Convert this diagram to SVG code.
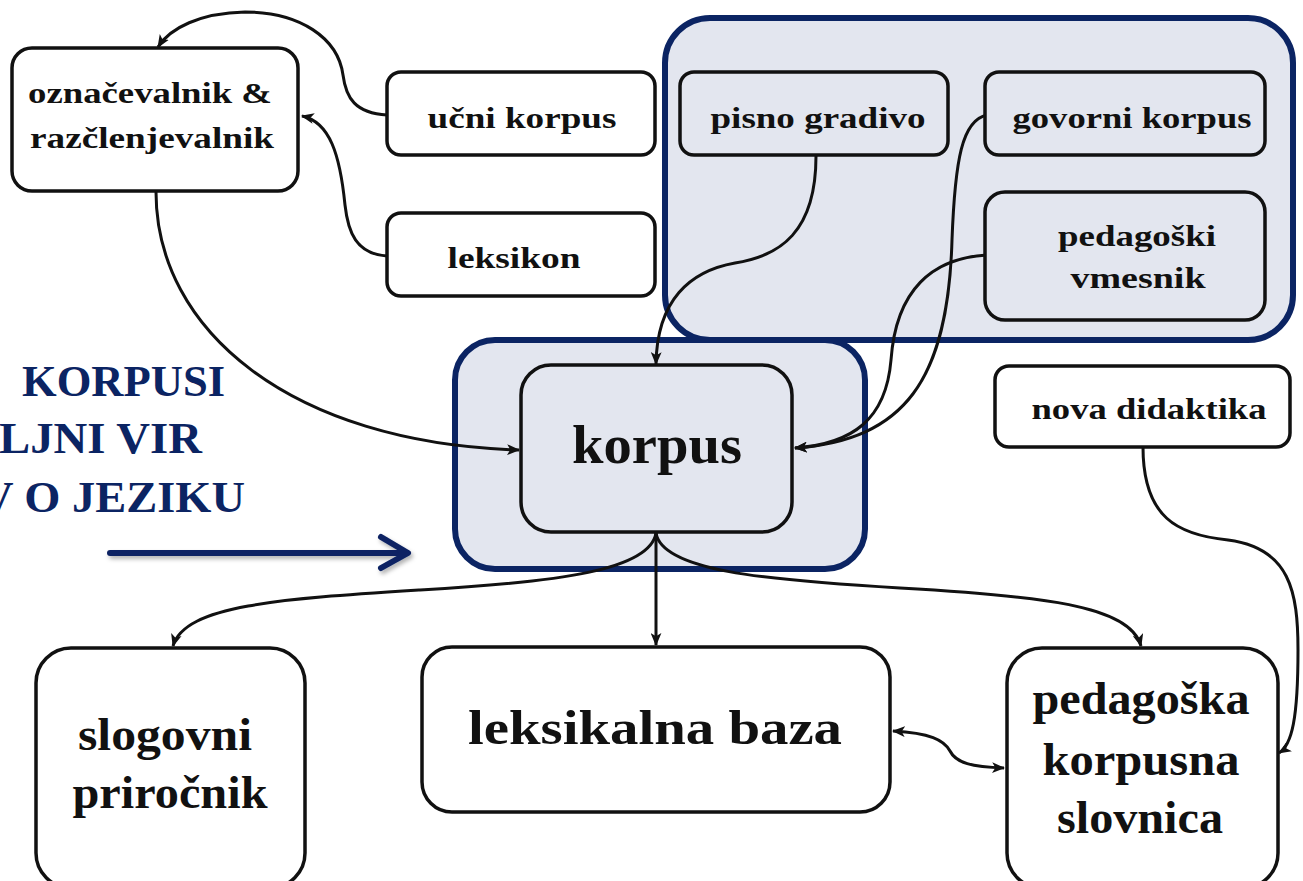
<svg xmlns="http://www.w3.org/2000/svg" width="1303" height="881" viewBox="0 0 1303 881">
<defs>
<style>
.box{fill:#ffffff;stroke:#111111;stroke-width:3.5}
.ibox{fill:#e3e6ef;stroke:#111111;stroke-width:3.5}
.grp{fill:#e3e6ef;stroke:#0b2463;stroke-width:6}
.t{font-family:"Liberation Serif","Times New Roman",serif;font-weight:bold;fill:#111111;text-anchor:middle}
.ttl{font-family:"Liberation Serif","Times New Roman",serif;font-weight:bold;fill:#0b2463;font-size:45px}
.c{fill:none;stroke:#111111;stroke-width:3}
</style>
<marker id="ah" viewBox="0 0 12 10" refX="11" refY="5" markerWidth="13" markerHeight="11" markerUnits="userSpaceOnUse" orient="auto">
<path d="M0,0 L12,5 L0,10 L3,5 Z" fill="#111111"/>
</marker>
<marker id="as" viewBox="0 0 12 10" refX="1" refY="5" markerWidth="13" markerHeight="11" markerUnits="userSpaceOnUse" orient="auto">
<path d="M12,0 L0,5 L12,10 L9,5 Z" fill="#111111"/>
</marker>
<filter id="sh" x="-10%" y="-50%" width="120%" height="200%">
<feDropShadow dx="2" dy="3" stdDeviation="2" flood-color="#000000" flood-opacity="0.3"/>
</filter>
</defs>
<rect width="1303" height="881" fill="#ffffff"/>

<g id="group-sources">
<rect class="grp" x="665" y="18" width="628" height="322" rx="45"/>
</g>
<g id="group-korpus">
<rect class="grp" x="455" y="340" width="410" height="229" rx="40"/>
</g>

<g id="title">
<text class="ttl" x="22" y="396" textLength="203" lengthAdjust="spacingAndGlyphs">KORPUSI</text>
<text class="ttl" x="-1" y="453" textLength="203" lengthAdjust="spacingAndGlyphs">LJNI VIR</text>
<text class="ttl" x="-20" y="512" textLength="265" lengthAdjust="spacingAndGlyphs">V O JEZIKU</text>
<g filter="url(#sh)" fill="none" stroke="#0b2463" stroke-width="6" stroke-linecap="round" stroke-linejoin="round">
<path d="M110,553 L406,553"/>
<path d="M381,537 L408,553 L381,568"/>
</g>
</g>

<g id="connectors">
<path class="c" marker-end="url(#ah)" d="M387,115 C355,113 346,98 343,75 C338,38 300,12 245,12 C200,13 170,28 158,47"/>
<path class="c" marker-end="url(#ah)" d="M387,256 C356,254 348,232 345,205 C340,155 330,122 302,116"/>
<path class="c" marker-end="url(#ah)" d="M156,192 C156,330 290,443 519,450"/>
<path class="c" marker-end="url(#ah)" d="M816,156 C816,232 780,256 735,263 C690,271 657,300 656,364"/>
<path class="c" marker-end="url(#ah)" d="M987,115 C962,120 955,160 952,240 C948,380 905,440 795,448"/>
<path class="c" marker-end="url(#ah)" d="M987,255 C932,258 896,290 891,360 C886,420 852,444 795,448"/>
<path class="c" marker-end="url(#ah)" d="M656,533 C650,570 560,582 420,590 C280,599 185,605 173,646"/>
<path class="c" marker-end="url(#ah)" d="M656,533 L656,645"/>
<path class="c" marker-end="url(#ah)" d="M656,533 C662,570 760,580 900,588 C1040,596 1130,605 1141,646"/>
<path class="c" marker-end="url(#ah)" d="M1143,447 C1143,518 1178,535 1228,540 C1290,548 1298,592 1298,650 C1298,718 1292,745 1279,753"/>
<path class="c" marker-start="url(#as)" marker-end="url(#ah)" d="M893,731 C930,733 944,740 950,751 C956,763 972,767 1004,768"/>
</g>

<g id="n-oznacevalnik">
<rect class="box" x="12" y="48" width="286" height="143" rx="20"/>
<text class="t" x="150" y="103" font-size="30" textLength="244" lengthAdjust="spacingAndGlyphs">označevalnik &amp;</text>
<text class="t" x="152" y="148" font-size="30" textLength="244" lengthAdjust="spacingAndGlyphs">razčlenjevalnik</text>
</g>
<g id="n-ucni-korpus">
<rect class="box" x="387" y="72" width="268" height="83" rx="14"/>
<text class="t" x="522" y="128" font-size="30" textLength="189" lengthAdjust="spacingAndGlyphs">učni korpus</text>
</g>
<g id="n-leksikon">
<rect class="box" x="387" y="213" width="268" height="83" rx="14"/>
<text class="t" x="514" y="268" font-size="30" textLength="133" lengthAdjust="spacingAndGlyphs">leksikon</text>
</g>
<g id="n-pisno-gradivo">
<rect class="ibox" x="680" y="72" width="268" height="83" rx="14"/>
<text class="t" x="818" y="128" font-size="30" textLength="215" lengthAdjust="spacingAndGlyphs">pisno gradivo</text>
</g>
<g id="n-govorni-korpus">
<rect class="ibox" x="985" y="72" width="280" height="83" rx="14"/>
<text class="t" x="1132" y="128" font-size="30" textLength="239" lengthAdjust="spacingAndGlyphs">govorni korpus</text>
</g>
<g id="n-pedagoski-vmesnik">
<rect class="ibox" x="985" y="192" width="280" height="128" rx="20"/>
<text class="t" x="1137" y="246" font-size="30" textLength="158" lengthAdjust="spacingAndGlyphs">pedagoški</text>
<text class="t" x="1138" y="288" font-size="30" textLength="135" lengthAdjust="spacingAndGlyphs">vmesnik</text>
</g>
<g id="n-korpus">
<rect class="ibox" x="521" y="365" width="271" height="167" rx="30"/>
<text class="t" x="657" y="463" font-size="54" textLength="170" lengthAdjust="spacingAndGlyphs">korpus</text>
</g>
<g id="n-nova-didaktika">
<rect class="box" x="995" y="366" width="295" height="81" rx="14"/>
<text class="t" x="1149" y="419" font-size="30" textLength="235" lengthAdjust="spacingAndGlyphs">nova didaktika</text>
</g>
<g id="n-slogovni">
<rect class="box" x="36" y="648" width="269" height="240" rx="35"/>
<text class="t" x="165" y="750" font-size="46" textLength="174" lengthAdjust="spacingAndGlyphs">slogovni</text>
<text class="t" x="170" y="808" font-size="46" textLength="195" lengthAdjust="spacingAndGlyphs">priročnik</text>
</g>
<g id="n-leksikalna-baza">
<rect class="box" x="422" y="647" width="468" height="165" rx="30"/>
<text class="t" x="655" y="744" font-size="48" textLength="374" lengthAdjust="spacingAndGlyphs">leksikalna baza</text>
</g>
<g id="n-pedagoska-slovnica">
<rect class="box" x="1007" y="648" width="271" height="240" rx="35"/>
<text class="t" x="1141" y="714" font-size="46" textLength="217" lengthAdjust="spacingAndGlyphs">pedagoška</text>
<text class="t" x="1141" y="775" font-size="46" textLength="197" lengthAdjust="spacingAndGlyphs">korpusna</text>
<text class="t" x="1140" y="833" font-size="46" textLength="166" lengthAdjust="spacingAndGlyphs">slovnica</text>
</g>
</svg>
